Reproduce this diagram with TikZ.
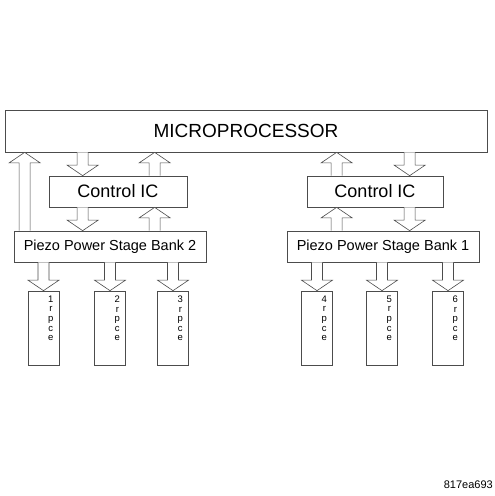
\documentclass[tikz,border=0pt]{standalone}
\usepackage{fontspec}
\setmainfont{Liberation Sans}
\usetikzlibrary{calc}

\tikzset{
  box/.style={draw=black!70, line width=0.7pt, fill=white, inner sep=0pt},
  cylbox/.style={box, minimum width=31pt, minimum height=74pt},
  cyltxt/.style={anchor=north, inner sep=0pt, align=center, font=\fontsize{9.5}{9.6}\selectfont},
  blk/.style={draw=black!70, line width=0.6pt, fill=white, line join=miter},
}
% hollow block arrow: tail at #1, tip at the height of #2
\newcommand\blkarrow[2]{%
  \draw[blk] let \p1=(#1), \p4=(#2), \p2=(\x1,\y4), \p3=($(\p2)!10.5pt!(\p1)$) in
    (\x1-5.5pt,\y1) -- (\x1-5.5pt,\y3) -- (\x1-15.5pt,\y3) -- (\p2)
    -- (\x1+15.5pt,\y3) -- (\x1+5.5pt,\y3) -- (\x1+5.5pt,\y1);}

\begin{document}
\begin{tikzpicture}[x=1pt,y=-1pt]
  \useasboundingbox (0,0) rectangle (495,496);

  \node[box, minimum width=482pt, minimum height=42pt, font=\fontsize{19}{19}\selectfont] (mp) at (246,131) {MICROPROCESSOR};

  \node[box, minimum width=138pt, minimum height=31pt, font=\fontsize{18}{18}\selectfont] (ic2) at (118,191.5) {Control IC};
  \node[box, minimum width=136pt, minimum height=31pt, font=\fontsize{18}{18}\selectfont] (ic1) at (375,191.5) {Control IC};

  \node[box, minimum width=192pt, minimum height=31pt, font=\fontsize{14.5}{14.5}\selectfont] (bank2) at (110,246.5) {Piezo Power Stage Bank 2};
  \node[box, minimum width=192pt, minimum height=31pt, font=\fontsize{14.5}{14.5}\selectfont] (bank1) at (383,246.5) {Piezo Power Stage Bank 1};

  % bank 2 side
  \blkarrow{$(bank2.north west)+(11,0)$}{mp.south}
  \blkarrow{$(mp.south -| ic2.north west)+(34,0)$}{ic2.north}
  \blkarrow{$(ic2.north west)+(106,0)$}{mp.south}
  \blkarrow{$(ic2.south west)+(34,0)$}{bank2.north}
  \blkarrow{$(bank2.north west)+(141,0)$}{ic2.south}

  % bank 1 side
  \blkarrow{$(ic1.north west)+(30,0)$}{mp.south}
  \blkarrow{$(mp.south -| ic1.north west)+(103,0)$}{ic1.north}
  \blkarrow{$(bank1.north west)+(50,0)$}{ic1.south}
  \blkarrow{$(ic1.south west)+(103,0)$}{bank1.north}

  % cylinders
  \foreach \k/\x/\b in {1/43.5/bank2, 2/110/bank2, 3/173/bank2, 4/317/bank1, 5/382/bank1, 6/448/bank1} {
    \node[cylbox] (cyl\k) at (\x,328) {};
    \node[cyltxt] (txt\k) at ($(cyl\k.north east)+(-8.5,5)$) {\k\\r\\p\\c\\e};
    \blkarrow{\b.south -| cyl\k.north}{cyl\k.north}
  }

  \node[anchor=east, inner sep=0pt, font=\fontsize{11}{11}\selectfont] (fig) at (493,484.5) {817ea693};
\end{tikzpicture}
\end{document}
